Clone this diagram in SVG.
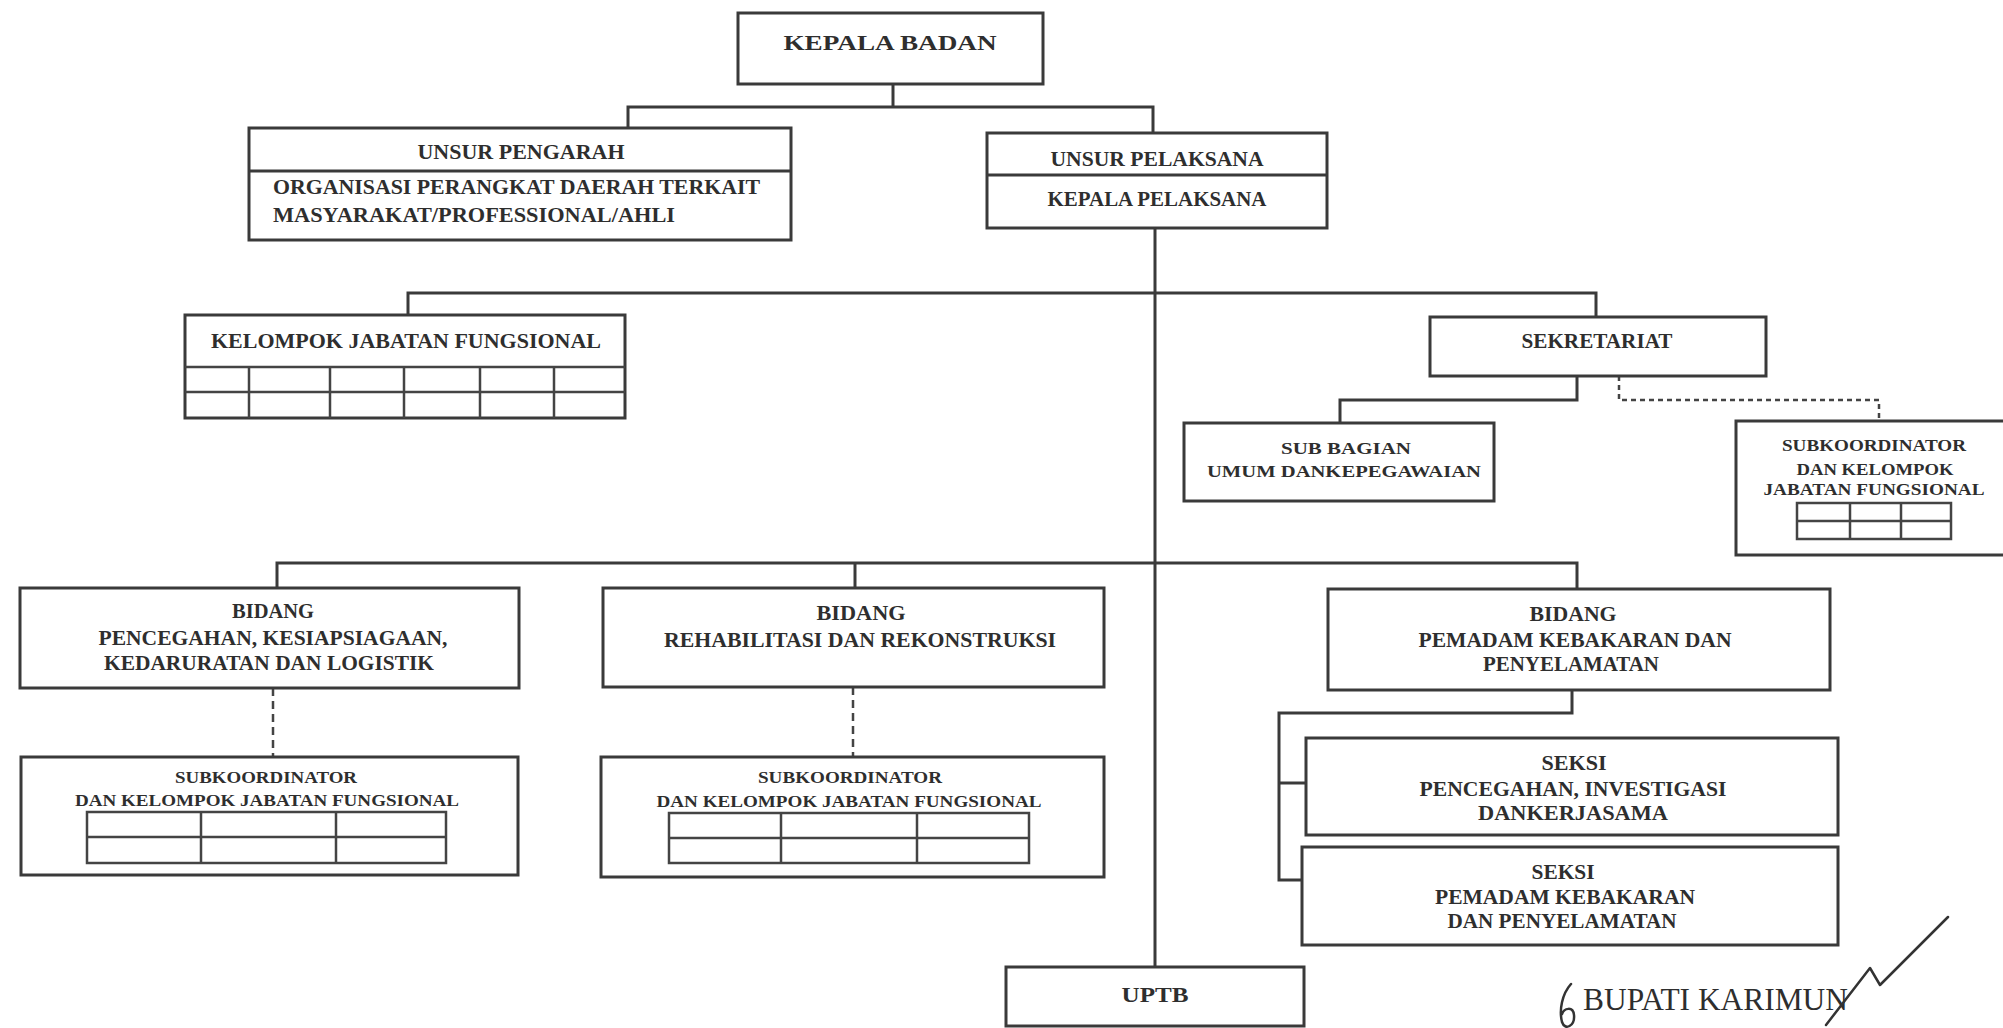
<svg xmlns="http://www.w3.org/2000/svg" width="2003" height="1028" viewBox="0 0 2003 1028">
<style>
.box{fill:#fff;stroke:#3a3a3a;stroke-width:3}
.ln{fill:none;stroke:#3a3a3a;stroke-width:3}
.grid{fill:none;stroke:#444;stroke-width:2.5}
.dash{fill:none;stroke:#444;stroke-width:2.5;stroke-dasharray:8 5}
.dash2{fill:none;stroke:#444;stroke-width:2.5;stroke-dasharray:5 4}
.t{font-family:"Liberation Serif","Times New Roman",serif;font-weight:bold;font-size:20px;fill:#2e2e2e;text-anchor:middle}
.s{font-size:17px}
.l{text-anchor:start}
.sign{font-family:"Liberation Serif","Times New Roman",serif;font-weight:normal;font-size:31px;fill:#2e2e2e}
.sig{fill:none;stroke:#333;stroke-width:2.5;stroke-linecap:round;stroke-linejoin:round}
</style>
<rect width="2003" height="1028" fill="#fff"/>
<g id="connectors">
<path class="ln" d="M893,84 V107"/>
<path class="ln" d="M628,128 V107 H1153 V133"/>
<path class="ln" d="M1155,228 V967"/>
<path class="ln" d="M408,315 V293 H1596 V317"/>
<path class="ln" d="M1577,376 V400 H1340 V423"/>
<path class="dash2" d="M1619,376 V400 H1879 V421"/>
<path class="ln" d="M277,588 V563 H1577 V589"/>
<path class="ln" d="M855,563 V588"/>
<path class="dash" d="M273,688 V757"/>
<path class="dash" d="M853,687 V757"/>
<path class="ln" d="M1572,690 V713 H1279 V880 H1302"/>
<path class="ln" d="M1279,783 H1306"/>
</g>
<g id="kepala-badan">
<rect class="box" x="738" y="13" width="305" height="71"/>
<text class="t" x="890" y="50" font-size="26" textLength="213" lengthAdjust="spacingAndGlyphs">KEPALA BADAN</text>
</g>
<g id="unsur-pengarah">
<rect class="box" x="249" y="128" width="542" height="112"/>
<path class="ln" d="M249,171 H791"/>
<text class="t" x="521" y="159" textLength="207" lengthAdjust="spacingAndGlyphs">UNSUR PENGARAH</text>
<text class="t l" x="273" y="194" textLength="487" lengthAdjust="spacingAndGlyphs">ORGANISASI PERANGKAT DAERAH TERKAIT</text>
<text class="t l" x="273" y="222" textLength="402" lengthAdjust="spacingAndGlyphs">MASYARAKAT/PROFESSIONAL/AHLI</text>
</g>
<g id="unsur-pelaksana">
<rect class="box" x="987" y="133" width="340" height="95"/>
<path class="ln" d="M987,175 H1327"/>
<text class="t" x="1157" y="166" textLength="213" lengthAdjust="spacingAndGlyphs">UNSUR PELAKSANA</text>
<text class="t" x="1157" y="206" textLength="219" lengthAdjust="spacingAndGlyphs">KEPALA PELAKSANA</text>
</g>
<g id="kelompok-jabatan-fungsional">
<rect class="box" x="185" y="315" width="440" height="103"/>
<text class="t" x="406" y="348" textLength="390" lengthAdjust="spacingAndGlyphs">KELOMPOK JABATAN FUNGSIONAL</text>
<path class="grid" d="M185,367 H625 M185,392 H625 M249,367 V418 M330,367 V418 M404,367 V418 M480,367 V418 M554,367 V418"/>
</g>
<g id="sekretariat">
<rect class="box" x="1430" y="317" width="336" height="59"/>
<text class="t" x="1597" y="348" textLength="151" lengthAdjust="spacingAndGlyphs">SEKRETARIAT</text>
</g>
<g id="sub-bagian">
<rect class="box" x="1184" y="423" width="310" height="78"/>
<text class="t s" x="1346" y="454" textLength="130" lengthAdjust="spacingAndGlyphs">SUB BAGIAN</text>
<text class="t s" x="1344" y="477" textLength="274" lengthAdjust="spacingAndGlyphs">UMUM DANKEPEGAWAIAN</text>
</g>
<g id="subkoordinator-sekretariat">
<rect class="box" x="1736" y="421" width="280" height="134"/>
<text class="t s" x="1874" y="451" textLength="184" lengthAdjust="spacingAndGlyphs">SUBKOORDINATOR</text>
<text class="t s" x="1875" y="475" textLength="157" lengthAdjust="spacingAndGlyphs">DAN KELOMPOK</text>
<text class="t s" x="1874" y="495" textLength="221" lengthAdjust="spacingAndGlyphs">JABATAN FUNGSIONAL</text>
<rect class="grid" x="1797" y="503" width="154" height="36"/>
<path class="grid" d="M1797,521 H1951 M1850,503 V539 M1901,503 V539"/>
</g>
<g id="bidang-pencegahan">
<rect class="box" x="20" y="588" width="499" height="100"/>
<text class="t" x="273" y="618" textLength="82" lengthAdjust="spacingAndGlyphs">BIDANG</text>
<text class="t" x="273" y="645" textLength="349" lengthAdjust="spacingAndGlyphs">PENCEGAHAN, KESIAPSIAGAAN,</text>
<text class="t" x="269" y="670" textLength="330" lengthAdjust="spacingAndGlyphs">KEDARURATAN DAN LOGISTIK</text>
</g>
<g id="subkoordinator-pencegahan">
<rect class="box" x="21" y="757" width="497" height="118"/>
<text class="t s" x="266" y="783" textLength="182" lengthAdjust="spacingAndGlyphs">SUBKOORDINATOR</text>
<text class="t s" x="267" y="806" textLength="384" lengthAdjust="spacingAndGlyphs">DAN KELOMPOK JABATAN FUNGSIONAL</text>
<rect class="grid" x="87" y="812" width="359" height="51"/>
<path class="grid" d="M87,837 H446 M201,812 V863 M336,812 V863"/>
</g>
<g id="bidang-rehabilitasi">
<rect class="box" x="603" y="588" width="501" height="99"/>
<text class="t" x="861" y="620" textLength="89" lengthAdjust="spacingAndGlyphs">BIDANG</text>
<text class="t" x="860" y="647" textLength="392" lengthAdjust="spacingAndGlyphs">REHABILITASI DAN REKONSTRUKSI</text>
</g>
<g id="subkoordinator-rehabilitasi">
<rect class="box" x="601" y="757" width="503" height="120"/>
<text class="t s" x="850" y="783" textLength="184" lengthAdjust="spacingAndGlyphs">SUBKOORDINATOR</text>
<text class="t s" x="849" y="807" textLength="385" lengthAdjust="spacingAndGlyphs">DAN KELOMPOK JABATAN FUNGSIONAL</text>
<rect class="grid" x="669" y="813" width="360" height="50"/>
<path class="grid" d="M669,838 H1029 M781,813 V863 M917,813 V863"/>
</g>
<g id="bidang-pemadam">
<rect class="box" x="1328" y="589" width="502" height="101"/>
<text class="t" x="1573" y="621" textLength="87" lengthAdjust="spacingAndGlyphs">BIDANG</text>
<text class="t" x="1575" y="647" textLength="313" lengthAdjust="spacingAndGlyphs">PEMADAM KEBAKARAN DAN</text>
<text class="t" x="1571" y="671" textLength="176" lengthAdjust="spacingAndGlyphs">PENYELAMATAN</text>
</g>
<g id="seksi-pencegahan">
<rect class="box" x="1306" y="738" width="532" height="97"/>
<text class="t" x="1574" y="770" textLength="65" lengthAdjust="spacingAndGlyphs">SEKSI</text>
<text class="t" x="1573" y="796" textLength="307" lengthAdjust="spacingAndGlyphs">PENCEGAHAN, INVESTIGASI</text>
<text class="t" x="1573" y="820" textLength="190" lengthAdjust="spacingAndGlyphs">DANKERJASAMA</text>
</g>
<g id="seksi-pemadam">
<rect class="box" x="1302" y="847" width="536" height="98"/>
<text class="t" x="1563" y="879" textLength="63" lengthAdjust="spacingAndGlyphs">SEKSI</text>
<text class="t" x="1565" y="904" textLength="260" lengthAdjust="spacingAndGlyphs">PEMADAM KEBAKARAN</text>
<text class="t" x="1562" y="928" textLength="229" lengthAdjust="spacingAndGlyphs">DAN PENYELAMATAN</text>
</g>
<g id="uptb">
<rect class="box" x="1006" y="967" width="298" height="59"/>
<text class="t" x="1155" y="1002" font-size="24" textLength="67" lengthAdjust="spacingAndGlyphs">UPTB</text>
</g>
<g id="bupati">
<path class="sig" d="M1571,984 C1562,994 1559,1010 1562,1022 C1565,1031 1575,1026 1574,1015 C1573,1006 1564,1008 1562,1014"/>
<text class="sign" x="1583" y="1010" textLength="265" lengthAdjust="spacingAndGlyphs">BUPATI KARIMUN</text>
<path class="sig" d="M1826,1025 L1870,968 L1880,985 L1948,917"/>
</g>
</svg>
